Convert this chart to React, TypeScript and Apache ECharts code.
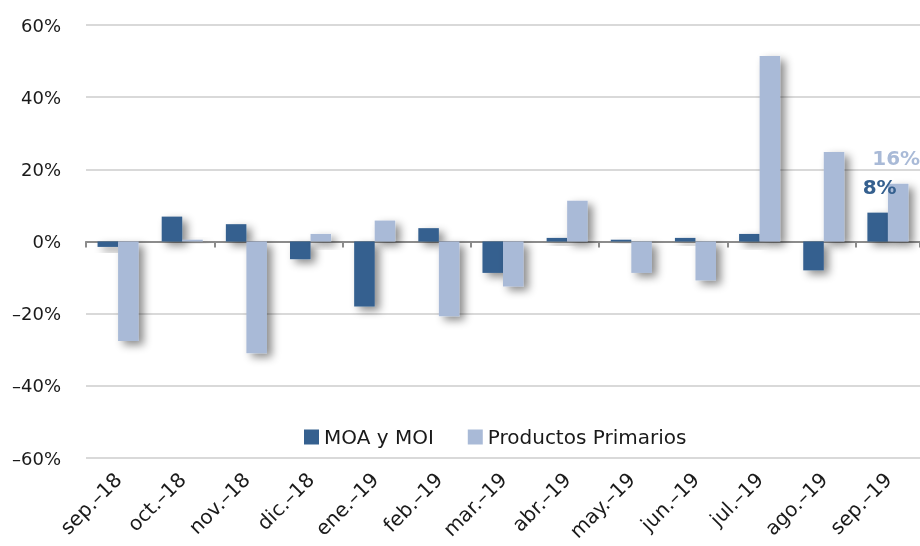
import React, { useEffect, useRef } from "react";
import * as echarts from "echarts";

const categories = ["sep.–18", "oct.–18", "nov.–18", "dic.–18", "ene.–19", "feb.–19", "mar.–19", "abr.–19", "may.–19", "jun.–19", "jul.–19", "ago.–19", "sep.–19"];
const moaMoi = [-1.5, 6.9, 4.8, -4.9, -18, 3.7, -8.7, 1.0, 0.5, 1.0, 2.1, -8, 8];
const primarios = [-27.6, 0.5, -31, 2.1, 5.8, -20.7, -12.5, 11.3, -8.7, -10.8, 51.4, 24.8, 16];
const seriesNames = ["MOA y MOI", "Productos Primarios"];
const colors = ["#35608F", "#A9BAD7"];

const FONT = "DejaVu Sans";

function withLastLabel(values: number[], color: string, offsetX: number) {
  return values.map((v, i) =>
    i === values.length - 1
      ? {
          value: v,
          label: {
            show: true,
            position: "top",
            distance: 16,
            offset: [offsetX, 0],
            formatter: (p: any) => Math.round(p.value) + "%",
            color,
            fontFamily: FONT,
            fontWeight: "bold",
            fontSize: 20,
          },
        }
      : v
  );
}

export default function App() {
  const ref = useRef<HTMLDivElement>(null);
  useEffect(() => {
    if (!ref.current) return;
    const chart = echarts.init(ref.current, null, { renderer: "svg" });
    const shadow = {
      shadowBlur: 8,
      shadowOffsetX: 5,
      shadowOffsetY: 4,
      shadowColor: "rgba(0,0,0,0.45)",
    };
    chart.setOption({
      animation: false,
      textStyle: { fontFamily: FONT },
      grid: { left: 86, right: 0, top: 25, bottom: 88, containLabel: false },
      legend: {
        data: seriesNames,
        left: 299,
        top: 422,
        icon: "rect",
        itemWidth: 15,
        itemHeight: 15,
        itemGap: 34,
        itemStyle: { shadowBlur: 0, shadowOffsetX: 0, shadowOffsetY: 0 },
        textStyle: { fontSize: 20, color: "#1a1a1a", fontFamily: FONT },
      },
      xAxis: [
        {
          type: "category",
          data: categories,
          axisLine: { onZero: true, lineStyle: { color: "#8c8c8c", width: 2 } },
          axisTick: { show: true, length: 6, lineStyle: { color: "#8c8c8c", width: 2 } },
          axisLabel: { show: false },
          splitLine: { show: false },
        },
        {
          type: "category",
          data: categories,
          position: "bottom",
          axisLine: { show: false, onZero: false },
          axisTick: { show: false },
          axisLabel: {
            rotate: 45,
            margin: 18,
            fontSize: 20,
            color: "#1a1a1a",
            fontFamily: FONT,
            interval: 0,
          },
        },
      ],
      yAxis: {
        type: "value",
        min: -60,
        max: 60,
        interval: 20,
        axisLine: { show: false },
        axisTick: { show: false },
        axisLabel: {
          fontSize: 18,
          color: "#1a1a1a",
          margin: 25,
          fontFamily: FONT,
          formatter: (v: number) => (v < 0 ? "–" + Math.abs(v) : String(v)) + "%",
        },
        splitLine: {
          show: true,
          lineStyle: { color: "#d9d9d9", width: 2 },
          showMinLine: true,
          showMaxLine: true,
        },
      },
      series: [
        {
          name: seriesNames[0],
          type: "bar",
          data: withLastLabel(moaMoi, colors[0], 2),
          barGap: "0%",
          barCategoryGap: "36%",
          itemStyle: { color: colors[0], ...shadow },
        },
        {
          name: seriesNames[1],
          type: "bar",
          data: withLastLabel(primarios, colors[1], -2),
          barGap: "0%",
          barCategoryGap: "36%",
          itemStyle: { color: colors[1], ...shadow },
        },
      ],
    });
    return () => chart.dispose();
  }, []);
  return <div ref={ref} style={{ width: 920, height: 546, position: "fixed", left: 0, top: 0 }} />;
}
